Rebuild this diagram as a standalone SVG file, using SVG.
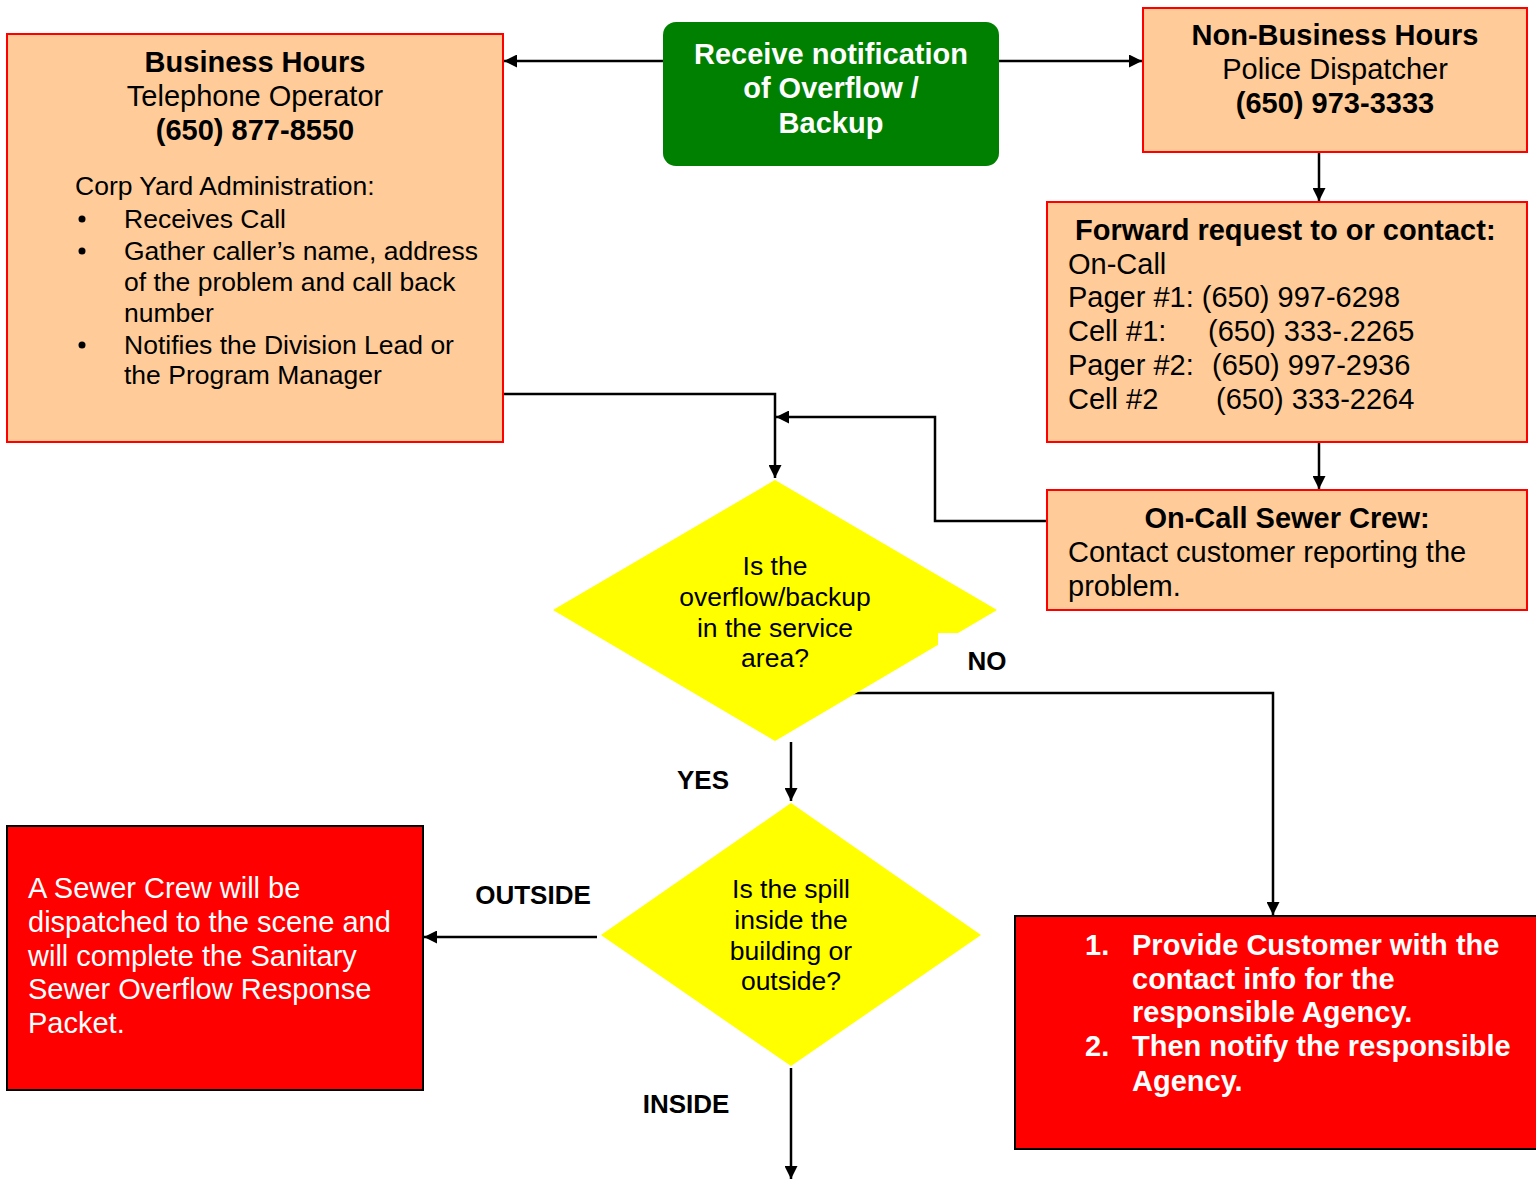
<svg xmlns="http://www.w3.org/2000/svg" width="1536" height="1179" viewBox="0 0 1536 1179">
<style>
text{font-family:"Liberation Sans",Arial,sans-serif;fill:#000}
.peach{fill:#FFCC99;stroke:#FF0000;stroke-width:2}
.red{fill:#FF0000;stroke:#000;stroke-width:2}
.dia{fill:#FFFF00;stroke:none}
.h{font-size:29px;font-weight:bold}
.t{font-size:29px}
.s{font-size:26.5px}
.w{fill:#fff}
.lbl{font-size:26px;font-weight:bold}
.c{fill:none;stroke:#000;stroke-width:2.5;marker-end:url(#ah)}
</style>
<defs>
<marker id="ah" viewBox="0 0 10 10" refX="10" refY="5" markerWidth="15" markerHeight="13" markerUnits="userSpaceOnUse" orient="auto">
<path d="M0,0 L10,5 L0,10 z" fill="#000"/>
</marker>
</defs>
<rect width="1536" height="1179" fill="#fff"/>

<g id="connectors">
<path class="c" d="M663,61 H504"/>
<path class="c" d="M999,61 H1142"/>
<path class="c" d="M1319,152 V201"/>
<path class="c" d="M1319,442 V489"/>
<path class="c" d="M503,394 H775 V478"/>
<path class="c" d="M1047,521 H935 V417 H776"/>
<path class="c" d="M853,693 H1273 V915"/>
<path class="c" d="M791,742 V801"/>
<path class="c" d="M597,937 H424"/>
<path class="c" d="M791,1068 V1179"/>
</g>

<g id="business">
<rect class="peach" x="7" y="34" width="496" height="408"/>
<text class="h" x="255" y="72" text-anchor="middle">Business Hours</text>
<text class="t" x="255" y="106" text-anchor="middle">Telephone Operator</text>
<text class="h" x="255" y="140" text-anchor="middle">(650) 877-8550</text>
<text class="s" x="75" y="195">Corp Yard Administration:</text>
<circle cx="82" cy="219" r="3.5"/><text class="s" x="124" y="228">Receives Call</text>
<circle cx="82" cy="251" r="3.5"/><text class="s" x="124" y="260">Gather caller’s name, address</text>
<text class="s" x="124" y="291">of the problem and call back</text>
<text class="s" x="124" y="322">number</text>
<circle cx="82" cy="345" r="3.5"/><text class="s" x="124" y="354">Notifies the Division Lead or</text>
<text class="s" x="124" y="384">the Program Manager</text>
</g>

<g id="notification">
<rect x="663" y="22" width="336" height="144" rx="13" fill="#008000"/>
<text class="h w" x="831" y="64" text-anchor="middle">Receive notification</text>
<text class="h w" x="831" y="98" text-anchor="middle">of Overflow /</text>
<text class="h w" x="831" y="133" text-anchor="middle">Backup</text>
</g>

<g id="nonbusiness">
<rect class="peach" x="1143" y="8" width="384" height="144"/>
<text class="h" x="1335" y="45" text-anchor="middle">Non-Business Hours</text>
<text class="t" x="1335" y="79" text-anchor="middle">Police Dispatcher</text>
<text class="h" x="1335" y="113" text-anchor="middle">(650) 973-3333</text>
</g>

<g id="forward">
<rect class="peach" x="1047" y="202" width="480" height="240"/>
<text class="h" x="1075" y="240">Forward request to or contact:</text>
<text class="t" x="1068" y="274">On-Call</text>
<text class="t" x="1068" y="307">Pager #1: (650) 997-6298</text>
<text class="t" y="341"><tspan x="1068">Cell #1:</tspan><tspan x="1208">(650) 333-.2265</tspan></text>
<text class="t" y="375"><tspan x="1068">Pager #2:</tspan><tspan x="1212">(650) 997-2936</tspan></text>
<text class="t" y="409"><tspan x="1068">Cell #2</tspan><tspan x="1216">(650) 333-2264</tspan></text>
</g>

<g id="oncall">
<rect class="peach" x="1047" y="490" width="480" height="120"/>
<text class="h" x="1287" y="528" text-anchor="middle">On-Call Sewer Crew:</text>
<text class="t" x="1068" y="562">Contact customer reporting the</text>
<text class="t" x="1068" y="596">problem.</text>
</g>

<g id="decision1">
<polygon class="dia" points="775,480 997,610 775,741 553,610"/>
<rect x="938" y="633" width="62" height="30" fill="#fff"/>
<text class="s" x="775" y="575" text-anchor="middle">Is the</text>
<text class="s" x="775" y="606" text-anchor="middle">overflow/backup</text>
<text class="s" x="775" y="637" text-anchor="middle">in the service</text>
<text class="s" x="775" y="667" text-anchor="middle">area?</text>
</g>

<g id="decision2">
<polygon class="dia" points="791,803 981,935 791,1066 601,935"/>
<text class="s" x="791" y="898" text-anchor="middle">Is the spill</text>
<text class="s" x="791" y="929" text-anchor="middle">inside the</text>
<text class="s" x="791" y="960" text-anchor="middle">building or</text>
<text class="s" x="791" y="990" text-anchor="middle">outside?</text>
</g>

<g id="dispatch">
<rect class="red" x="7" y="826" width="416" height="264"/>
<text class="t w" x="28" y="898">A Sewer Crew will be</text>
<text class="t w" x="28" y="932">dispatched to the scene and</text>
<text class="t w" x="28" y="966">will complete the Sanitary</text>
<text class="t w" x="28" y="999">Sewer Overflow Response</text>
<text class="t w" x="28" y="1033">Packet.</text>
</g>

<g id="agency">
<rect class="red" x="1015" y="916" width="530" height="233"/>
<text class="h w" x="1085" y="955">1.</text><text class="h w" x="1132" y="955">Provide Customer with the</text>
<text class="h w" x="1132" y="989">contact info for the</text>
<text class="h w" x="1132" y="1022">responsible Agency.</text>
<text class="h w" x="1085" y="1056">2.</text><text class="h w" x="1132" y="1056">Then notify the responsible</text>
<text class="h w" x="1132" y="1091">Agency.</text>
</g>

<g id="labels">
<text class="lbl" x="987" y="670" text-anchor="middle">NO</text>
<text class="lbl" x="703" y="789" text-anchor="middle">YES</text>
<text class="lbl" x="533" y="904" text-anchor="middle">OUTSIDE</text>
<text class="lbl" x="686" y="1113" text-anchor="middle">INSIDE</text>
</g>
</svg>
